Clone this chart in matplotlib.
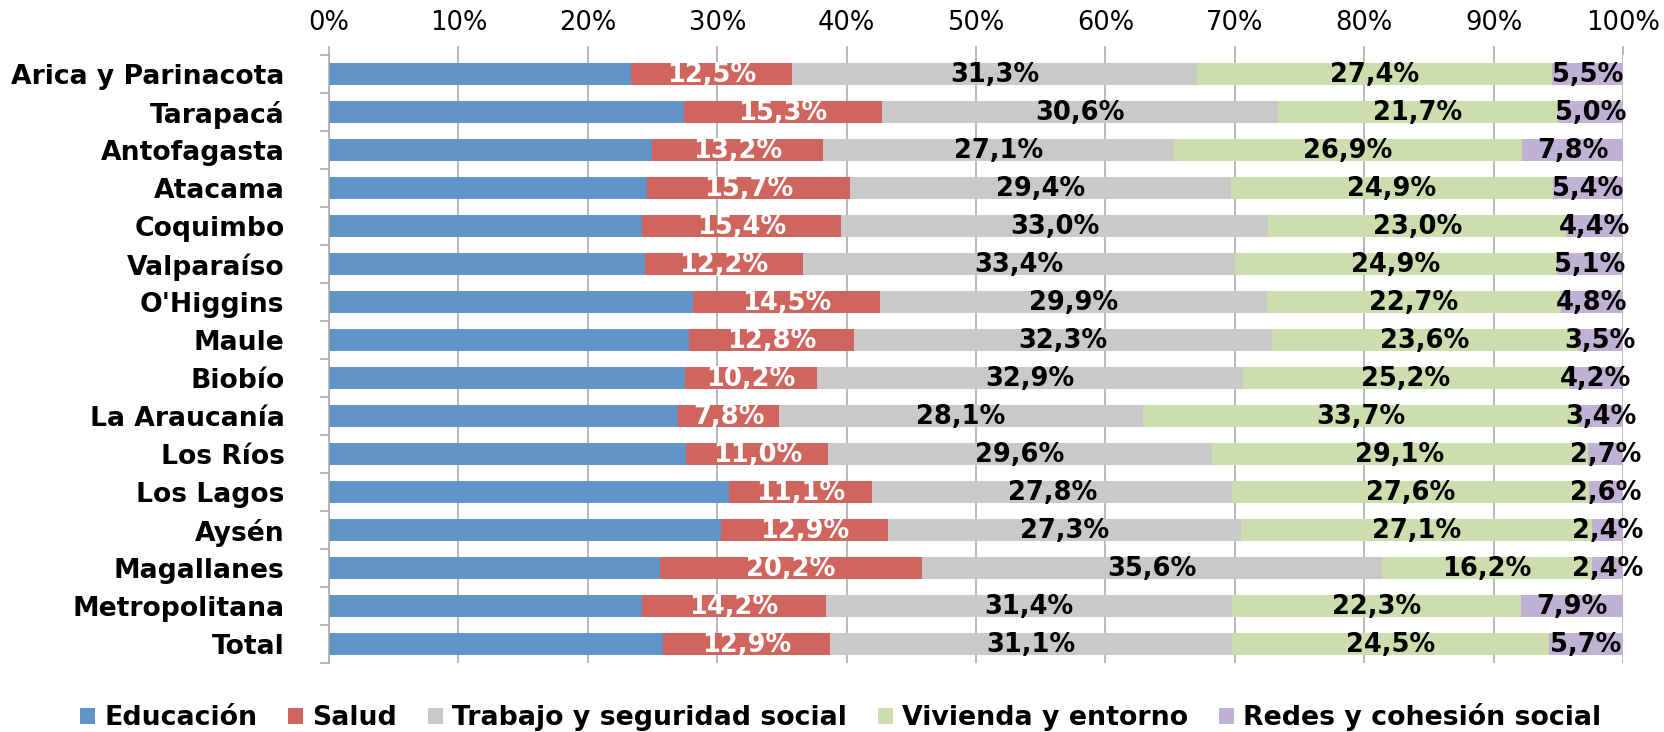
"""Distribución por dimensión y región (barras apiladas al 100%)."""
import matplotlib
matplotlib.use("Agg")
import matplotlib.pyplot as plt
import numpy as np
from matplotlib.patches import Patch

regions = ["Arica y Parinacota", "Tarapacá", "Antofagasta", "Atacama", "Coquimbo",
           "Valparaíso", "O'Higgins", "Maule", "Biobío", "La Araucanía", "Los Ríos",
           "Los Lagos", "Aysén", "Magallanes", "Metropolitana", "Total"]
series = ["Educación", "Salud", "Trabajo y seguridad social", "Vivienda y entorno",
          "Redes y cohesión social"]

educacion = [23.3, 27.4, 25.0, 24.6, 24.2, 24.4, 28.1, 27.8, 27.5, 27.0, 27.6, 30.9, 30.3, 25.6, 24.2, 25.8]
salud = [12.5, 15.3, 13.2, 15.7, 15.4, 12.2, 14.5, 12.8, 10.2, 7.8, 11.0, 11.1, 12.9, 20.2, 14.2, 12.9]
trabajo = [31.3, 30.6, 27.1, 29.4, 33.0, 33.4, 29.9, 32.3, 32.9, 28.1, 29.6, 27.8, 27.3, 35.6, 31.4, 31.1]
vivienda = [27.4, 21.7, 26.9, 24.9, 23.0, 24.9, 22.7, 23.6, 25.2, 33.7, 29.1, 27.6, 27.1, 16.2, 22.3, 24.5]
redes = [5.5, 5.0, 7.8, 5.4, 4.4, 5.1, 4.8, 3.5, 4.2, 3.4, 2.7, 2.6, 2.4, 2.4, 7.9, 5.7]

COLORS = ["#6195C9", "#D0655E", "#C9C9C9", "#CEDDAD", "#BFB2D4"]
LABEL_COLORS = [None, "white", "black", "black", "black"]
GRID = "#A6A6A6"

fig = plt.figure(figsize=(16.65, 7.32), dpi=100)
ax = fig.add_axes([329 / 1665, 1 - 663 / 732, (1623 - 329) / 1665, (663 - 55) / 732])

data = [educacion, salud, trabajo, vivienda, redes]
y = np.arange(len(regions))
left = np.zeros(len(regions))
for vals, color, lc in zip(data, COLORS, LABEL_COLORS):
    frac = np.array(vals) / 100.0
    ax.barh(y, frac, left=left, height=0.58, color=color, edgecolor="none", zorder=2)
    if lc:
        for yi, l, w, v in zip(y, left, frac, vals):
            ax.text(l + w / 2, yi + 0.03, f"{v:.1f}%".replace(".", ","), ha="center", va="center",
                    fontsize=18.5, fontweight="bold", color=lc, zorder=3)
    left += frac

ax.set_xlim(0, 1)
ax.set_ylim(len(regions) - 0.5, -0.5)

ax.xaxis.tick_top()
ax.set_xticks(np.linspace(0, 1, 11))
ax.set_xticklabels([f"{int(round(t * 100))}%" for t in np.linspace(0, 1, 11)], fontsize=18.5)
ax.tick_params(axis="x", length=6.5, width=1.1, color=GRID, pad=7)
ax.grid(axis="x", color=GRID, linewidth=1.1, zorder=0)
ax.set_axisbelow(True)

# category separators as major ticks, names on minor ticks
ax.set_yticks(np.arange(-0.5, len(regions)), labels=[])
ax.set_yticks(y, labels=regions, minor=True)
ax.tick_params(axis="y", which="major", length=6.5, width=1.1, color=GRID)
ax.tick_params(axis="y", which="minor", length=0, pad=32, labelsize=19.2)
for lab in ax.get_yticklabels(minor=True):
    lab.set_fontweight("bold")

for s in ("top", "right", "bottom"):
    ax.spines[s].set_visible(False)
ax.spines["left"].set_color(GRID)
ax.spines["left"].set_linewidth(1.1)

handles = [Patch(facecolor=c, edgecolor="none") for c in COLORS]
fig.legend(handles, series, loc="center", bbox_to_anchor=(0.505, 0.02), ncol=5, frameon=False,
           handlelength=0.55, handleheight=0.55, handletextpad=0.35, columnspacing=1.15,
           prop={"size": 19.3, "weight": "bold"})

fig.savefig("out.png", dpi=100, facecolor="white")
